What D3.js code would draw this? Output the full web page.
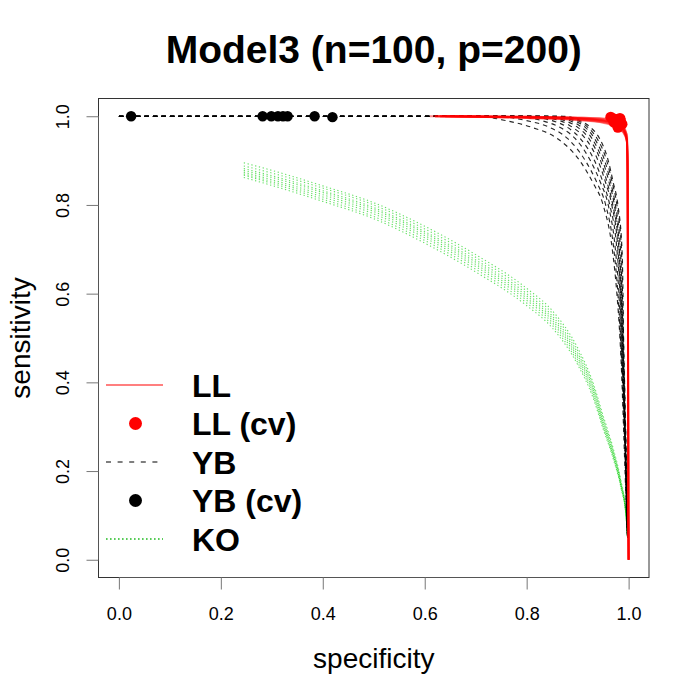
<!DOCTYPE html>
<html>
<head>
<meta charset="utf-8">
<script src="https://cdn.jsdelivr.net/npm/d3@7"></script>
<style>
  html, body { margin: 0; padding: 0; background: #fff; }
  svg { display: block; font-family: "Liberation Sans", Arial, Helvetica, sans-serif; }
</style>
</head>
<body>
<svg id="chart" width="700" height="700"></svg>
<script>
// ---------------- DATA ----------------
const titleText = "Model3 (n=100, p=200)";
const xLabel = "specificity";
const yLabel = "sensitivity";
const xTicks = [0.0, 0.2, 0.4, 0.6, 0.8, 1.0];
const yTicks = [0.0, 0.2, 0.4, 0.6, 0.8, 1.0];
const legendLabels = ["LL", "LL (cv)", "YB", "YB (cv)", "KO"];

// LL (red solid) ROC curves: [specificity, sensitivity]
const llCurves = [
  [[0.62,1],[0.8,0.999],[0.9,0.997],[0.95,0.994],[0.975,0.988],[0.99,0.975],[0.996,0.955],[0.998,0.9],[0.999,0.5],[0.9995,0.15],[1,0]],
  [[0.63,1],[0.8,0.998],[0.9,0.995],[0.95,0.991],[0.975,0.984],[0.99,0.97],[0.996,0.95],[0.998,0.88],[0.999,0.5],[0.9995,0.1],[1,0]],
  [[0.64,1],[0.8,0.997],[0.9,0.993],[0.95,0.988],[0.975,0.98],[0.99,0.966],[0.997,0.945],[0.998,0.86],[0.999,0.45],[0.9995,0.1],[1,0]],
  [[0.61,1],[0.8,0.999],[0.9,0.996],[0.95,0.992],[0.975,0.986],[0.99,0.972],[0.996,0.952],[0.998,0.9],[0.999,0.55],[0.9995,0.12],[1,0]],
  [[0.65,1],[0.8,0.996],[0.9,0.992],[0.95,0.986],[0.975,0.978],[0.99,0.964],[0.997,0.94],[0.998,0.85],[0.999,0.4],[0.9995,0.08],[1,0]],
  [[0.62,1],[0.8,0.998],[0.9,0.994],[0.95,0.989],[0.975,0.982],[0.99,0.968],[0.996,0.948],[0.998,0.87],[0.999,0.5],[0.9995,0.1],[1,0]],
  [[0.66,1],[0.8,0.997],[0.9,0.995],[0.95,0.99],[0.975,0.985],[0.99,0.973],[0.997,0.958],[0.998,0.9],[0.999,0.6],[0.9995,0.15],[1,0]],
  [[0.63,1],[0.8,0.999],[0.9,0.997],[0.95,0.995],[0.975,0.99],[0.99,0.978],[0.996,0.96],[0.998,0.92],[0.999,0.5],[0.9995,0.1],[1,0]],
  [[0.64,1],[0.8,0.996],[0.9,0.991],[0.95,0.985],[0.975,0.976],[0.99,0.962],[0.997,0.942],[0.998,0.85],[0.999,0.45],[0.9995,0.1],[1,0]],
  [[0.62,1],[0.8,0.998],[0.9,0.995],[0.95,0.99],[0.975,0.983],[0.99,0.969],[0.996,0.95],[0.998,0.88],[0.999,0.5],[0.9995,0.12],[1,0]]
];
// LL cross-validated points
const llCvX = [0.965, 0.977, 0.983, 0.971, 0.987, 0.979, 0.984, 0.974];
const llCvY = [0.998, 0.989, 0.995, 0.987, 0.982, 0.975, 0.990, 0.993];

// YB (black dashed) ROC curves
const ybCurves = [
  [[0,1],[0.70,1],[0.76,0.99],[0.81,0.975],[0.86,0.95],[0.904,0.9],[0.93,0.85],[0.95,0.8],[0.968,0.7],[0.977,0.6],[0.983,0.5],[0.987,0.4],[0.99,0.3],[0.993,0.2],[0.996,0.1],[0.998,0.05]],
  [[0,1],[0.74,1],[0.80,0.99],[0.845,0.975],[0.88,0.95],[0.915,0.9],[0.938,0.85],[0.955,0.8],[0.971,0.7],[0.979,0.6],[0.984,0.5],[0.988,0.4],[0.991,0.3],[0.994,0.2],[0.996,0.1],[0.998,0.05]],
  [[0,1],[0.77,1],[0.83,0.99],[0.865,0.975],[0.895,0.95],[0.925,0.9],[0.945,0.85],[0.96,0.8],[0.974,0.7],[0.981,0.6],[0.985,0.5],[0.989,0.4],[0.992,0.3],[0.994,0.2],[0.996,0.1],[0.998,0.05]],
  [[0,1],[0.79,1],[0.85,0.99],[0.88,0.975],[0.905,0.95],[0.933,0.9],[0.95,0.85],[0.963,0.8],[0.977,0.7],[0.983,0.6],[0.986,0.5],[0.989,0.4],[0.992,0.3],[0.995,0.2],[0.997,0.1],[0.998,0.05]],
  [[0,1],[0.81,1],[0.865,0.99],[0.89,0.975],[0.915,0.95],[0.94,0.9],[0.955,0.85],[0.967,0.8],[0.979,0.7],[0.984,0.6],[0.987,0.5],[0.99,0.4],[0.992,0.3],[0.995,0.2],[0.997,0.1],[0.998,0.05]],
  [[0,1],[0.83,1],[0.875,0.99],[0.9,0.975],[0.922,0.95],[0.945,0.9],[0.958,0.85],[0.969,0.8],[0.981,0.7],[0.985,0.6],[0.988,0.5],[0.99,0.4],[0.993,0.3],[0.995,0.2],[0.997,0.1],[0.998,0.05]],
  [[0,1],[0.84,1],[0.885,0.99],[0.908,0.975],[0.928,0.95],[0.949,0.9],[0.962,0.85],[0.972,0.8],[0.982,0.7],[0.986,0.6],[0.988,0.5],[0.991,0.4],[0.993,0.3],[0.995,0.2],[0.997,0.1],[0.998,0.05]],
  [[0,1],[0.85,1],[0.893,0.99],[0.915,0.975],[0.933,0.95],[0.953,0.9],[0.965,0.85],[0.974,0.8],[0.984,0.7],[0.987,0.6],[0.989,0.5],[0.991,0.4],[0.993,0.3],[0.995,0.2],[0.997,0.1],[0.998,0.05]],
  [[0,1],[0.86,1],[0.9,0.99],[0.92,0.975],[0.938,0.95],[0.957,0.9],[0.968,0.85],[0.977,0.8],[0.986,0.7],[0.988,0.6],[0.99,0.5],[0.992,0.4],[0.994,0.3],[0.996,0.2],[0.997,0.1],[0.998,0.05]],
  [[0,1],[0.87,1],[0.905,0.99],[0.925,0.975],[0.943,0.95],[0.96,0.9],[0.97,0.85],[0.979,0.8],[0.987,0.7],[0.989,0.6],[0.99,0.5],[0.992,0.4],[0.994,0.3],[0.996,0.2],[0.997,0.1],[0.998,0.05]]
];
// YB cross-validated points
const ybCvX = [0.024, 0.282, 0.299, 0.312, 0.322, 0.331, 0.384, 0.419];
const ybCvY = [1.0, 1.0, 1.0, 1.0, 1.0, 1.0, 1.0, 0.998];

// KO (green dotted) ROC curves: shared specificity grid, sensitivity per curve
const koX = [0.245, 0.3, 0.4, 0.5, 0.6, 0.7, 0.8, 0.85, 0.9, 0.93, 0.95, 0.97, 0.985, 0.995, 0.998];
const koY = [
  [0.895,0.878,0.843,0.805,0.752,0.688,0.612,0.562,0.478,0.400,0.325,0.250,0.178,0.105,0.05],
  [0.888,0.872,0.838,0.800,0.746,0.682,0.606,0.556,0.472,0.395,0.320,0.246,0.175,0.103,0.05],
  [0.882,0.866,0.832,0.794,0.740,0.676,0.600,0.550,0.466,0.390,0.315,0.242,0.172,0.101,0.05],
  [0.878,0.862,0.828,0.790,0.736,0.671,0.595,0.545,0.461,0.386,0.311,0.239,0.170,0.100,0.05],
  [0.874,0.857,0.823,0.785,0.731,0.666,0.590,0.540,0.456,0.381,0.307,0.236,0.168,0.099,0.05],
  [0.870,0.853,0.818,0.780,0.726,0.661,0.585,0.535,0.451,0.376,0.303,0.233,0.166,0.098,0.05],
  [0.867,0.849,0.813,0.774,0.720,0.655,0.579,0.529,0.445,0.371,0.299,0.230,0.164,0.097,0.05],
  [0.862,0.844,0.808,0.769,0.714,0.649,0.573,0.523,0.440,0.366,0.295,0.227,0.162,0.096,0.05]
];

// ---------------- DRAW ----------------
const svg = d3.select("#chart");
const plot = { left: 98.5, right: 649, top: 98.5, bottom: 577.5 };

const x = d3.scaleLinear().domain([-0.04, 1.04]).range([plot.left, plot.right]);
const y = d3.scaleLinear().domain([-0.04, 1.04]).range([plot.bottom, plot.top]);

const line = d3.line().x(d => x(d[0])).y(d => y(d[1])).curve(d3.curveMonotoneX);

svg.append("defs").append("clipPath").attr("id", "clip")
  .append("rect").attr("x", plot.left).attr("y", plot.top)
  .attr("width", plot.right - plot.left).attr("height", plot.bottom - plot.top);

const g = svg.append("g").attr("clip-path", "url(#clip)");

// KO curves
koY.forEach(ys => {
  g.append("path")
    .datum(koX.map((xv, i) => [xv, ys[i]]))
    .attr("d", line)
    .attr("fill", "none")
    .attr("stroke", "#00CD00")
    .attr("stroke-opacity", 0.6)
    .attr("stroke-width", 1.1)
    .attr("stroke-dasharray", "1.3,2.6");
});

// YB curves
ybCurves.forEach(c => {
  g.append("path")
    .datum(c)
    .attr("d", line)
    .attr("fill", "none")
    .attr("stroke", "#000")
    .attr("stroke-opacity", 0.85)
    .attr("stroke-width", 1.15)
    .attr("stroke-dasharray", "4.5,4");
});

// LL curves
llCurves.forEach(c => {
  g.append("path")
    .datum(c)
    .attr("d", line)
    .attr("fill", "none")
    .attr("stroke", "#FF0000")
    .attr("stroke-opacity", 0.45)
    .attr("stroke-width", 1.8);
});

// YB cv points
g.selectAll("circle.yb").data(ybCvX.map((v, i) => [v, ybCvY[i]])).enter()
  .append("circle").attr("class", "yb")
  .attr("cx", d => x(d[0])).attr("cy", d => y(d[1])).attr("r", 5.2)
  .attr("fill", "#000");

// LL cv points
g.selectAll("circle.ll").data(llCvX.map((v, i) => [v, llCvY[i]])).enter()
  .append("circle").attr("class", "ll")
  .attr("cx", d => x(d[0])).attr("cy", d => y(d[1])).attr("r", 5.5)
  .attr("fill", "#FF0000");

// box
svg.append("rect")
  .attr("x", plot.left).attr("y", plot.top)
  .attr("width", plot.right - plot.left).attr("height", plot.bottom - plot.top)
  .attr("fill", "none").attr("stroke", "#333").attr("stroke-width", 1);

// axes
const xAxis = d3.axisBottom(x).tickValues(xTicks).tickFormat(d3.format(".1f")).tickSize(12).tickPadding(18);
const gx = svg.append("g").attr("transform", `translate(0,${plot.bottom})`).call(xAxis);
gx.select(".domain").attr("d", `M${x(0)},0H${x(1)}`).attr("stroke", "#555");
gx.selectAll(".tick line").attr("stroke", "#777");
gx.selectAll(".tick text").attr("font-size", 18).attr("fill", "#000")
  .attr("font-family", "Liberation Sans, Arial, sans-serif");

const yAxis = d3.axisLeft(y).tickValues(yTicks).tickFormat(d3.format(".1f")).tickSize(12);
const gy = svg.append("g").attr("transform", `translate(${plot.left},0)`).call(yAxis);
gy.select(".domain").attr("d", `M0,${y(0)}V${y(1)}`).attr("stroke", "#555");
gy.selectAll(".tick line").attr("stroke", "#777");
gy.selectAll(".tick text")
  .attr("font-size", 18).attr("fill", "#000")
  .attr("font-family", "Liberation Sans, Arial, sans-serif")
  .attr("x", null).attr("dy", null)
  .attr("text-anchor", "middle")
  .attr("transform", "translate(-30,0) rotate(-90)");

// title
svg.append("text")
  .attr("x", (plot.left + plot.right) / 2).attr("y", 63)
  .attr("text-anchor", "middle")
  .attr("font-size", 39).attr("font-weight", "bold")
  .text(titleText);

// axis labels
svg.append("text")
  .attr("x", (plot.left + plot.right) / 2).attr("y", 668)
  .attr("text-anchor", "middle").attr("font-size", 28)
  .text(xLabel);
svg.append("text")
  .attr("transform", `translate(30,${(plot.top + plot.bottom) / 2}) rotate(-90)`)
  .attr("text-anchor", "middle").attr("font-size", 28)
  .text(yLabel);

// legend
const legendRowY = [385, 423.5, 462, 500.5, 539];
const lg = svg.append("g");
const lx0 = 106, lx1 = 163, lcx = 135.5, ltx = 192;
lg.append("line").attr("x1", lx0).attr("x2", lx1).attr("y1", legendRowY[0]).attr("y2", legendRowY[0])
  .attr("stroke", "#FF0000").attr("stroke-width", 1.2);
lg.append("circle").attr("cx", lcx).attr("cy", legendRowY[1]).attr("r", 6.5).attr("fill", "#FF0000");
lg.append("line").attr("x1", lx0).attr("x2", lx1).attr("y1", legendRowY[2]).attr("y2", legendRowY[2])
  .attr("stroke", "#000").attr("stroke-width", 1.2).attr("stroke-dasharray", "5,6.6");
lg.append("circle").attr("cx", lcx).attr("cy", legendRowY[3]).attr("r", 6.5).attr("fill", "#000");
lg.append("line").attr("x1", lx0).attr("x2", lx1).attr("y1", legendRowY[4]).attr("y2", legendRowY[4])
  .attr("stroke", "#22BB22").attr("stroke-width", 1.4).attr("stroke-dasharray", "1.6,2.4");

legendLabels.forEach((t, i) => {
  lg.append("text").attr("x", ltx).attr("y", legendRowY[i] + 11.5)
    .attr("font-size", 32).attr("font-weight", "bold").text(t);
});
</script>
</body>
</html>
